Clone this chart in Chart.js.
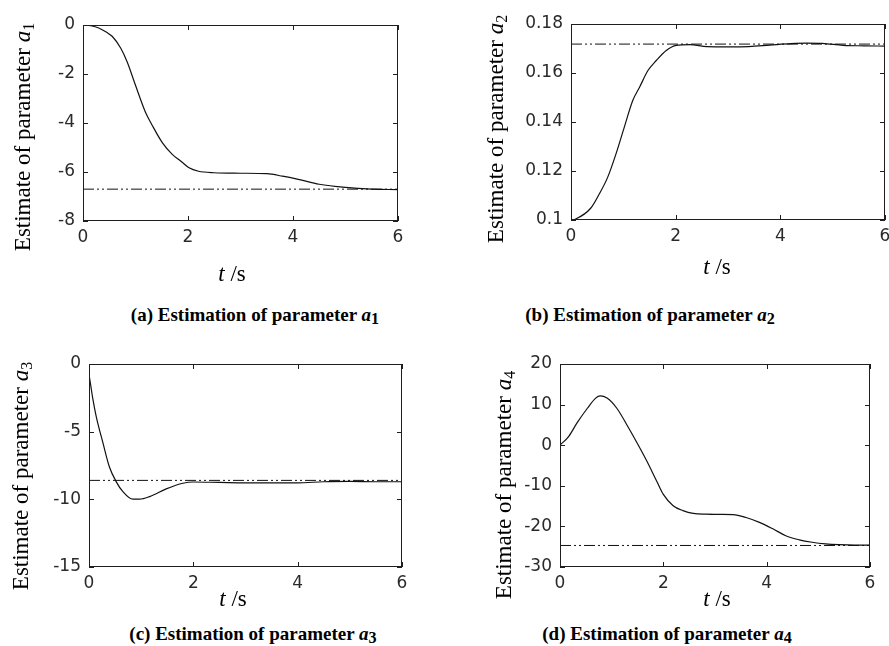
<!DOCTYPE html>
<html><head><meta charset="utf-8">
<script src="https://cdn.jsdelivr.net/npm/chart.js@4.4.1/dist/chart.umd.min.js"></script>
<style>
html,body{margin:0;padding:0;background:#fff;}
#wrap{position:relative;width:889px;height:646px;overflow:hidden;background:#fff;}
canvas{position:absolute;}
.cap{position:absolute;font-family:"Liberation Serif","Times New Roman",serif;font-weight:bold;font-size:19px;color:#000;white-space:nowrap;transform:translate(-50%,-50%);}
.cap i{font-style:italic;}
.cap sub{font-size:0.85em;vertical-align:-0.2em;line-height:0;font-style:normal;}
</style></head><body>
<div id="wrap">
<canvas id="ca" width="440" height="300" style="left:0;top:0"></canvas>
<canvas id="cb" width="449" height="300" style="left:440px;top:0"></canvas>
<canvas id="cc" width="440" height="290" style="left:0;top:330px"></canvas>
<canvas id="cd" width="449" height="290" style="left:440px;top:330px"></canvas>
<div class="cap" style="left:255px;top:315px">(a) Estimation of parameter <i>a</i><sub>1</sub></div>
<div class="cap" style="left:650px;top:315px">(b) Estimation of parameter <i>a</i><sub>2</sub></div>
<div class="cap" style="left:253px;top:634px">(c) Estimation of parameter <i>a</i><sub>3</sub></div>
<div class="cap" style="left:667px;top:634px">(d) Estimation of parameter <i>a</i><sub>4</sub></div>
</div>
<script>
// ---------------- DATA ----------------
const xTickValues = [0, 2, 4, 6];

const timeA = [0, 0.15, 0.3, 0.45, 0.56, 0.72, 0.84, 1.0, 1.19, 1.32, 1.51, 1.7, 1.86, 2.02, 2.2, 2.5, 3.0, 3.5, 3.8, 4.1, 4.5, 5.0, 5.5, 6.0];
const estA1 = [0, -0.03, -0.12, -0.3, -0.47, -0.95, -1.5, -2.46, -3.56, -4.1, -4.8, -5.28, -5.55, -5.83, -5.97, -6.03, -6.05, -6.07, -6.17, -6.3, -6.5, -6.63, -6.7, -6.72];
const trueA1 = -6.7;
const yTicksA = [-8, -6, -4, -2, 0];
const yLabelsA = ['-8', '-6', '-4', '-2', '0'];

const timeB = [0, 0.09, 0.38, 0.54, 0.7, 0.86, 1.02, 1.18, 1.31, 1.47, 1.63, 1.82, 2.01, 2.27, 2.6, 3.0, 3.4, 3.8, 4.2, 4.5, 4.8, 5.2, 5.6, 6.0];
const estA2 = [0.1, 0.1004, 0.1049, 0.1106, 0.1174, 0.127, 0.138, 0.1488, 0.1542, 0.161, 0.1651, 0.1692, 0.1713, 0.1716, 0.1708, 0.1707, 0.1708, 0.1714, 0.172, 0.1722, 0.1721, 0.1713, 0.1711, 0.171];
const trueA2 = 0.1718;
const yTicksB = [0.1, 0.12, 0.14, 0.16, 0.18];
const yLabelsB = ['0.1', '0.12', '0.14', '0.16', '0.18'];

const timeC = [0, 0.03, 0.07, 0.14, 0.27, 0.39, 0.52, 0.65, 0.84, 0.97, 1.16, 1.48, 1.8, 2.0, 2.5, 3.0, 3.5, 4.0, 4.5, 5.0, 5.5, 6.0];
const estA3 = [-0.8, -1.5, -2.5, -3.9, -5.87, -7.59, -8.69, -9.43, -9.99, -9.99, -9.8, -9.23, -8.81, -8.72, -8.75, -8.78, -8.78, -8.78, -8.7, -8.68, -8.7, -8.7];
const trueA3 = -8.6;
const yTicksC = [-15, -10, -5, 0];
const yLabelsC = ['-15', '-10', '-5', '0'];

const timeD = [0, 0.17, 0.33, 0.53, 0.69, 0.78, 0.91, 1.1, 1.29, 1.49, 1.68, 1.87, 2.0, 2.19, 2.38, 2.58, 2.83, 3.1, 3.35, 3.6, 3.86, 4.12, 4.37, 4.63, 4.88, 5.14, 5.4, 5.7, 6.0];
const estA4 = [0, 2.2, 5.5, 9.1, 11.6, 12.15, 11.6, 9.1, 5.1, 0.6, -3.9, -8.8, -12.1, -14.9, -16.1, -16.8, -17.0, -17.05, -17.1, -17.8, -19.0, -20.6, -22.3, -23.3, -23.9, -24.3, -24.5, -24.6, -24.6];
const trueA4 = -24.7;
const yTicksD = [-30, -20, -10, 0, 10, 20];
const yLabelsD = ['-30', '-20', '-10', '0', '10', '20'];

const yTitleText = 'Estimate of parameter ';
const xTitleVar = 't';
const xTitleUnit = ' /s';

// ---------------- RENDERING ----------------
const SERIF = '"Liberation Serif","Times New Roman",serif';
const SANS = '"DejaVu Sans",sans-serif';

function drawRich(ctx, parts, cx, cy, rot) {
  ctx.save();
  ctx.translate(cx, cy);
  ctx.rotate(rot);
  ctx.textBaseline = 'middle';
  ctx.textAlign = 'left';
  ctx.fillStyle = '#000';
  let w = 0;
  parts.forEach(p => { ctx.font = p.font; p.w = ctx.measureText(p.text).width; w += p.w; });
  let x = -w / 2;
  parts.forEach(p => { ctx.font = p.font; ctx.fillText(p.text, x, p.dy || 0); x += p.w; });
  ctx.restore();
}

const framePlugin = {
  id: 'frame',
  afterDatasetsDraw(chart, args, o) {
    const ctx = chart.ctx, a = chart.chartArea, xs = chart.scales.x, ys = chart.scales.y;
    ctx.save();
    ctx.strokeStyle = '#1e1e1e';
    ctx.lineWidth = 1;
    ctx.strokeRect(a.left + 0.5, a.top + 0.5, a.right - a.left - 1, a.bottom - a.top - 1);
    ctx.beginPath();
    const L = 5;
    xs.ticks.forEach(t => {
      const p = Math.round(xs.getPixelForValue(t.value)) + 0.5;
      ctx.moveTo(p, a.bottom); ctx.lineTo(p, a.bottom - L);
      ctx.moveTo(p, a.top); ctx.lineTo(p, a.top + L);
    });
    ys.ticks.forEach(t => {
      const p = Math.round(ys.getPixelForValue(t.value)) + 0.5;
      ctx.moveTo(a.left, p); ctx.lineTo(a.left + L, p);
      ctx.moveTo(a.right, p); ctx.lineTo(a.right - L, p);
    });
    ctx.stroke();
    ctx.restore();
    drawRich(ctx, [
      { text: yTitleText, font: '23px ' + SERIF },
      { text: 'a', font: 'italic 23px ' + SERIF },
      { text: o.sub, font: '16px ' + SERIF, dy: 6 }
    ], o.yx, o.yy, -Math.PI / 2);
    drawRich(ctx, [
      { text: xTitleVar, font: 'italic 23px ' + SERIF },
      { text: xTitleUnit, font: '23px ' + SERIF }
    ], o.xx, o.xy, 0);
  }
};

function makeChart(id, times, est, trueVal, yTicks, yLabels, lay) {
  const pts = times.map((t, i) => ({ x: t, y: est[i] }));
  const ref = [{ x: xTickValues[0], y: trueVal }, { x: xTickValues[xTickValues.length - 1], y: trueVal }];
  new Chart(document.getElementById(id), {
    type: 'line',
    data: {
      datasets: [
        { data: ref, borderColor: '#111', borderWidth: 1, borderDash: [11, 3, 2, 3, 2, 3], pointRadius: 0, fill: false },
        { data: pts, borderColor: '#111', borderWidth: 1.2, pointRadius: 0, fill: false, cubicInterpolationMode: 'monotone' }
      ]
    },
    options: {
      responsive: false,
      animation: false,
      devicePixelRatio: 1,
      layout: { padding: { left: 0, top: lay.top, right: lay.right, bottom: 0 } },
      plugins: {
        legend: { display: false },
        tooltip: { enabled: false },
        frame: { sub: lay.sub, yx: lay.yx, yy: lay.yy, xx: lay.xx, xy: lay.xy }
      },
      scales: {
        x: {
          type: 'linear', min: xTickValues[0], max: xTickValues[xTickValues.length - 1],
          grid: { display: false, drawTicks: false },
          border: { display: false },
          afterBuildTicks: s => { s.ticks = xTickValues.map(v => ({ value: v })); },
          afterFit: s => { s.height = lay.xh; s.paddingLeft = 0; s.paddingRight = 0; },
          ticks: { autoSkip: false, maxRotation: 0, padding: 6, color: '#2a2a2a', font: { family: SANS, size: 17 }, callback: v => String(v) }
        },
        y: {
          type: 'linear', min: yTicks[0], max: yTicks[yTicks.length - 1],
          grid: { display: false, drawTicks: false },
          border: { display: false },
          afterBuildTicks: s => { s.ticks = yTicks.map(v => ({ value: v })); },
          afterFit: s => { s.width = lay.yw; s.paddingTop = 0; s.paddingBottom = 0; },
          ticks: { autoSkip: false, padding: 8, color: '#2a2a2a', font: { family: SANS, size: 17 },
            callback: (v) => { const i = yTicks.findIndex(t => Math.abs(t - v) < 1e-9); return i >= 0 ? yLabels[i] : ''; } }
        }
      }
    },
    plugins: [framePlugin]
  });
}

makeChart('ca', timeA, estA1, trueA1, yTicksA, yLabelsA,
  { top: 25, right: 42, yw: 83, xh: 79, sub: '1', yx: 24, yy: 137, xx: 232, xy: 275 });
makeChart('cb', timeB, estA2, trueA2, yTicksB, yLabelsB,
  { top: 24, right: 4, yw: 131, xh: 80, sub: '2', yx: 57, yy: 129, xx: 277, xy: 268 });
makeChart('cc', timeC, estA3, trueA3, yTicksC, yLabelsC,
  { top: 34, right: 38, yw: 89, xh: 53, sub: '3', yx: 22, yy: 146, xx: 233, xy: 270 });
makeChart('cd', timeD, estA4, trueA4, yTicksD, yLabelsD,
  { top: 34, right: 19, yw: 120, xh: 53, sub: '4', yx: 65, yy: 155, xx: 277, xy: 270 });
</script>
</body></html>
